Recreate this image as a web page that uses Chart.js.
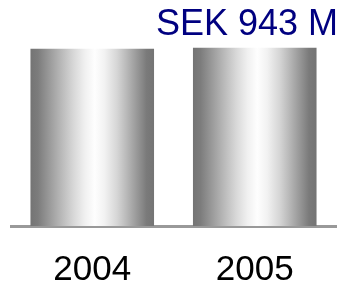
<!DOCTYPE html>
<html>
<head>
<meta charset="utf-8">
<script src="https://cdn.jsdelivr.net/npm/chart.js@4/dist/chart.umd.min.js"></script>
<style>
  html, body { margin: 0; padding: 0; background: #fff; }
  #wrap { width: 343px; height: 284px; }
</style>
</head>
<body>
<div id="wrap"><canvas id="chart"></canvas></div>
<script>
const years = ['2004', '2005']
const sales = [938, 943]
const valueLabels = ['', 'SEK 943 M']

// cylinder shading, left to right
const shadeStops = [0, 0.06, 0.16, 0.26, 0.35, 0.44, 0.52, 0.6, 0.7, 0.78, 0.86, 0.94, 1]
const shadeColors = ['#747474', '#7c7c7c', '#9c9c9c', '#bcbcbc', '#d8d8d8', '#f0f0f0', '#fefefe', '#f2f2f2', '#d6d6d6', '#b8b8b8', '#999999', '#7a7a7a', '#747474']

const catPct = 0.9
const barPct = 0.845

const cylinder = function(context) {
  let chart = context.chart
  let xs = chart.scales.x
  if (!xs || context.dataIndex === undefined) return '#aaaaaa'
  let center = xs.getPixelForValue(context.dataIndex)
  let w = xs.width / years.length * catPct * barPct
  if (!isFinite(center) || !isFinite(w) || w <= 0) return '#aaaaaa'
  let g = chart.ctx.createLinearGradient(center - w / 2, 0, center + w / 2, 0)
  for (let i = 0; i < shadeColors.length; i++) {
    g.addColorStop(shadeStops[i], shadeColors[i])
  }
  return g
}

const valueText = {
  id: 'valueText',
  afterDatasetsDraw(chart) {
    let ctx = chart.ctx
    ctx.save()
    ctx.font = '36px Arial, "Liberation Sans", sans-serif'
    ctx.fillStyle = '#000080'
    ctx.textAlign = 'right'
    ctx.textBaseline = 'alphabetic'
    let meta = chart.getDatasetMeta(0)
    meta.data.forEach((el, i) => {
      if (valueLabels[i]) ctx.fillText(valueLabels[i], chart.width - 5, 35)
    })
    ctx.restore()
  }
}

new Chart(document.getElementById('chart'), {
  type: 'bar',
  data: {
    labels: years,
    datasets: [{
      data: sales,
      backgroundColor: cylinder,
      borderWidth: 0,
      categoryPercentage: catPct,
      barPercentage: barPct
    }]
  },
  plugins: [valueText],
  options: {
    responsive: true,
    maintainAspectRatio: false,
    animation: false,
    layout: { padding: { top: 37, left: 11, right: 7, bottom: 0 } },
    plugins: {
      legend: { display: false },
      tooltip: { enabled: false }
    },
    scales: {
      x: {
        afterFit: function(scale) { scale.height = 58 },
        grid: { display: false, drawTicks: false },
        border: { display: true, color: '#999999', width: 3 },
        ticks: {
          color: '#000000',
          padding: 23,
          font: { family: 'Arial, "Liberation Sans", sans-serif', size: 35 }
        }
      },
      y: {
        display: false,
        min: 0,
        max: 1000
      }
    }
  }
})
</script>
</body>
</html>
